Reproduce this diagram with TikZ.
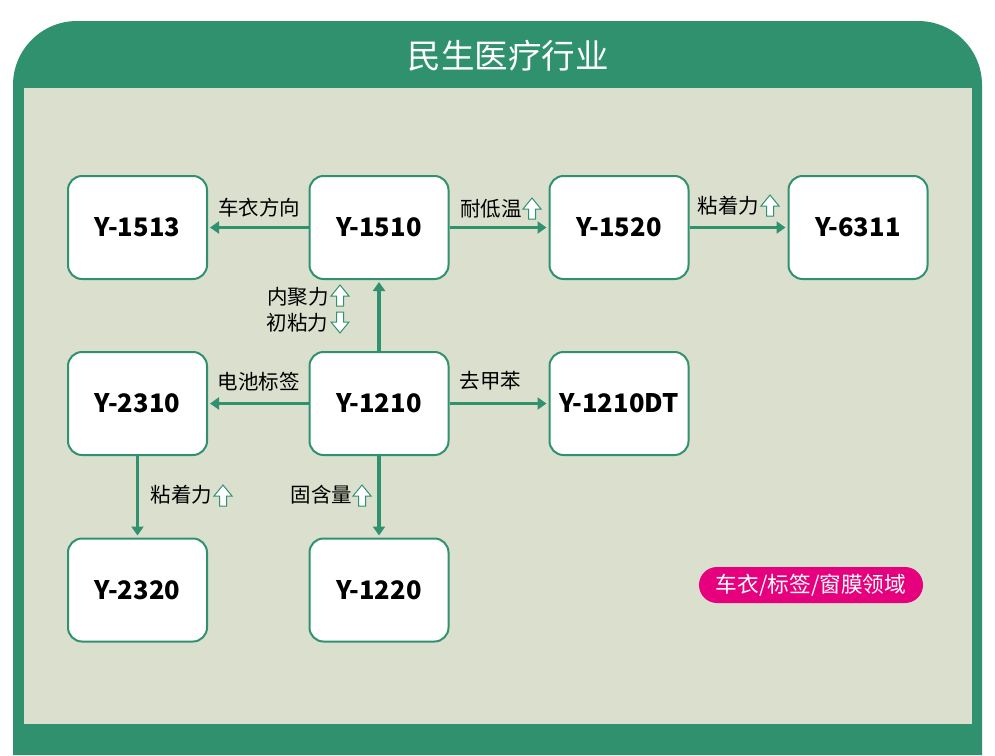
\documentclass[tikz,border=0pt]{standalone}
\usepackage{fontspec}
\setmainfont{Noto Sans CJK SC}
\usetikzlibrary{arrows.meta}

\definecolor{framegreen}{HTML}{30916F}
\definecolor{panelgreen}{HTML}{DAE0CD}
\definecolor{pillpink}{HTML}{E6007E}

\tikzset{
    product/.style={draw=framegreen, line width=2pt, fill=white, rounded corners=14pt,
        minimum width=139pt, minimum height=103pt, inner sep=0pt,
        font=\fontsize{25.5}{30}\selectfont\bfseries},
    link/.style={draw=framegreen, line width=3.5pt, shorten >=2pt,
        -{Triangle[length=9pt,width=12pt]}},
    note/.style={inner sep=0pt, font=\fontsize{20.5}{24}\selectfont},
    upmark/.pic={\draw[framegreen, line width=1pt, fill=white]
        (-3.5,11) -- (3.5,11) -- (3.5,1) -- (9,1) -- (0,-10) -- (-9,1) -- (-3.5,1) -- cycle;},
    downmark/.pic={\draw[framegreen, line width=1pt, fill=white]
        (-3.5,-11) -- (3.5,-11) -- (3.5,-1) -- (9,-1) -- (0,10) -- (-9,-1) -- (-3.5,-1) -- cycle;}
}

\begin{document}
\begin{tikzpicture}[x=1pt, y=-1pt]
    \useasboundingbox (0,0) rectangle (995,755);

    % Frame
    \fill[framegreen] (13,755) -- (13,85) arc[start angle=180, end angle=270, radius=64]
        -- (918,21) arc[start angle=270, end angle=360, radius=64] -- (982,755) -- cycle;
    \fill[panelgreen] (23.5,88) rectangle (972,724);
    \node[text=white, inner sep=0pt, font=\fontsize{33.5}{36}\selectfont] (title) at (508,56) {民生医疗行业};

    % Products
    \node[product] (y1513) at (137.5,227.5) {Y-1513};
    \node[product] (y1510) at (379,227.5) {Y-1510};
    \node[product] (y1520) at (619,227.5) {Y-1520};
    \node[product] (y6311) at (858,227.5) {Y-6311};
    \node[product] (y2310) at (137.5,403.5) {Y-2310};
    \node[product] (y1210) at (379,403.5) {Y-1210};
    \node[product] (y1210dt) at (619,403.5) {Y-1210DT};
    \node[product] (y2320) at (137.5,590) {Y-2320};
    \node[product] (y1220) at (379,590) {Y-1220};

    % Links
    \draw[link] (y1510) -- (y1513);
    \draw[link] (y1510) -- (y1520);
    \draw[link] (y1520) -- (y6311);
    \draw[link] (y1210) -- (y1510);
    \draw[link] (y1210) -- (y2310);
    \draw[link] (y1210) -- (y1210dt);
    \draw[link] (y2310) -- (y2320);
    \draw[link] (y1210) -- (y1220);

    % Labels
    \node[note] (fabric) at (259,207.5) {车衣方向};
    \node[note] (lowtemp) at (491,208.5) {耐低温};
    \pic at (532,208) {upmark};
    \node[note] (stick) at (728.5,205.5) {粘着力};
    \pic at (770,205) {upmark};
    \node[note] (cohesion) at (298,297) {内聚力};
    \pic at (340,295) {upmark};
    \node[note] (tack) at (297.5,323) {初粘力};
    \pic at (340,323) {downmark};
    \node[note] (battery) at (258.5,382) {电池标签};
    \node[note] (toluene) at (490.5,381) {去甲苯};
    \node[note] (stickb) at (181.5,495) {粘着力};
    \pic at (223,495) {upmark};
    \node[note] (solid) at (321.5,495) {固含量};
    \pic at (362,495) {upmark};

    % Legend
    \node[fill=pillpink, text=white, rounded corners=18pt, minimum width=224pt, minimum height=36pt,
        inner sep=0pt, font=\fontsize{21.7}{24}\selectfont] (field) at (811,585) {车衣/标签/窗膜领域};
\end{tikzpicture}
\end{document}
